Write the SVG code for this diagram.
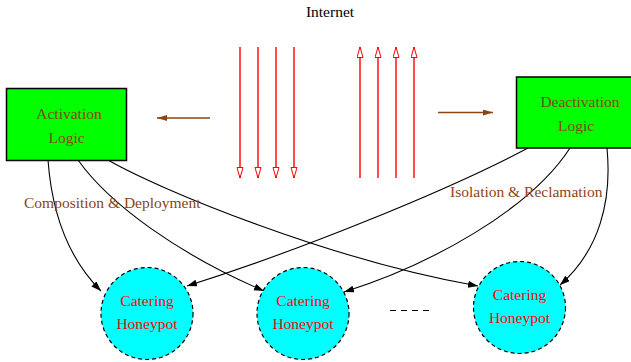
<svg xmlns="http://www.w3.org/2000/svg" width="631" height="362" viewBox="0 0 631 362">
<style>
text{font-family:"Liberation Serif","Times New Roman",serif;font-size:15.5px}
.brown{fill:#8B4513}
.red{fill:#ff0000}
.box{fill:#00ff00;stroke:#000;stroke-width:1.5}
.hp{fill:#00ffff;stroke:#000;stroke-width:1.2;stroke-dasharray:4 3}
.edge{fill:none;stroke:#000;stroke-width:1.1;marker-end:url(#ah)}
.net{stroke:#ff0000;stroke-width:1.4;marker-end:url(#oh)}
.flow{stroke:#8B4513;stroke-width:1.3;marker-end:url(#bh)}
</style>
<defs>
<marker id="ah" markerUnits="userSpaceOnUse" markerWidth="12" markerHeight="8" refX="10" refY="3.5" orient="auto"><path d="M0,0 L10,3.5 L0,7 z" fill="#000"/></marker>
<marker id="oh" markerUnits="userSpaceOnUse" markerWidth="13" markerHeight="9" refX="11" refY="3.5" orient="auto"><path d="M0.5,0.5 L11,3.5 L0.5,6.5 z" fill="#fff" stroke="#ff0000" stroke-width="1"/></marker>
<marker id="bh" markerUnits="userSpaceOnUse" markerWidth="12" markerHeight="8" refX="10" refY="3" orient="auto"><path d="M0,0 L10,3 L0,6 z" fill="#8B4513"/></marker>
</defs>
<text x="330" y="17" text-anchor="middle">Internet</text>
<g id="connectors">
<line class="net" x1="240" y1="47" x2="240" y2="178"/>
<line class="net" x1="258" y1="47" x2="258" y2="178"/>
<line class="net" x1="276" y1="47" x2="276" y2="178"/>
<line class="net" x1="294" y1="47" x2="294" y2="178"/>
<line class="net" x1="360" y1="178" x2="360" y2="47"/>
<line class="net" x1="378" y1="178" x2="378" y2="47"/>
<line class="net" x1="396" y1="178" x2="396" y2="47"/>
<line class="net" x1="414" y1="178" x2="414" y2="47"/>
<line class="flow" x1="210" y1="118" x2="157" y2="118"/>
<line class="flow" x1="438" y1="112.5" x2="493" y2="112.5"/>
<path class="edge" d="M48,160 C52,215 70,260 101,291"/>
<path class="edge" d="M78,160 C110,205 180,255 264,291"/>
<path class="edge" d="M108,160 C160,190 330,260 478,286"/>
<path class="edge" d="M528,148 C445,192 295,252 187,286"/>
<path class="edge" d="M570,148 C530,210 430,265 344,292"/>
<path class="edge" d="M607,148 C612,200 600,250 560,285"/>
<text class="brown" x="24" y="208">Composition &amp; Deployment</text>
<text class="brown" x="450" y="197">Isolation &amp; Reclamation</text>
<line x1="390" y1="310.5" x2="434" y2="310.5" stroke="#000" stroke-width="1.2" stroke-dasharray="6 5"/>
</g>
<g id="activation">
<rect class="box" x="6.5" y="88.5" width="120" height="72"/>
<text class="brown" x="69" y="119" text-anchor="middle">Activation</text>
<text class="brown" x="66.5" y="143" text-anchor="middle">Logic</text>
</g>
<g id="deactivation">
<rect class="box" x="516.5" y="77" width="116" height="71"/>
<text class="brown" x="580" y="107" text-anchor="middle">Deactivation</text>
<text class="brown" x="576" y="131" text-anchor="middle">Logic</text>
</g>
<g id="honeypot1">
<circle class="hp" cx="147" cy="313.5" r="46"/>
<text class="red" x="147" y="305.5" text-anchor="middle">Catering</text>
<text class="red" x="147" y="328.5" text-anchor="middle">Honeypot</text>
</g>
<g id="honeypot2">
<circle class="hp" cx="303" cy="313.5" r="46"/>
<text class="red" x="303" y="305.5" text-anchor="middle">Catering</text>
<text class="red" x="303" y="328.5" text-anchor="middle">Honeypot</text>
</g>
<g id="honeypot3">
<circle class="hp" cx="519.5" cy="307.5" r="46"/>
<text class="red" x="519.5" y="299.5" text-anchor="middle">Catering</text>
<text class="red" x="519.5" y="322.5" text-anchor="middle">Honeypot</text>
</g>
</svg>
